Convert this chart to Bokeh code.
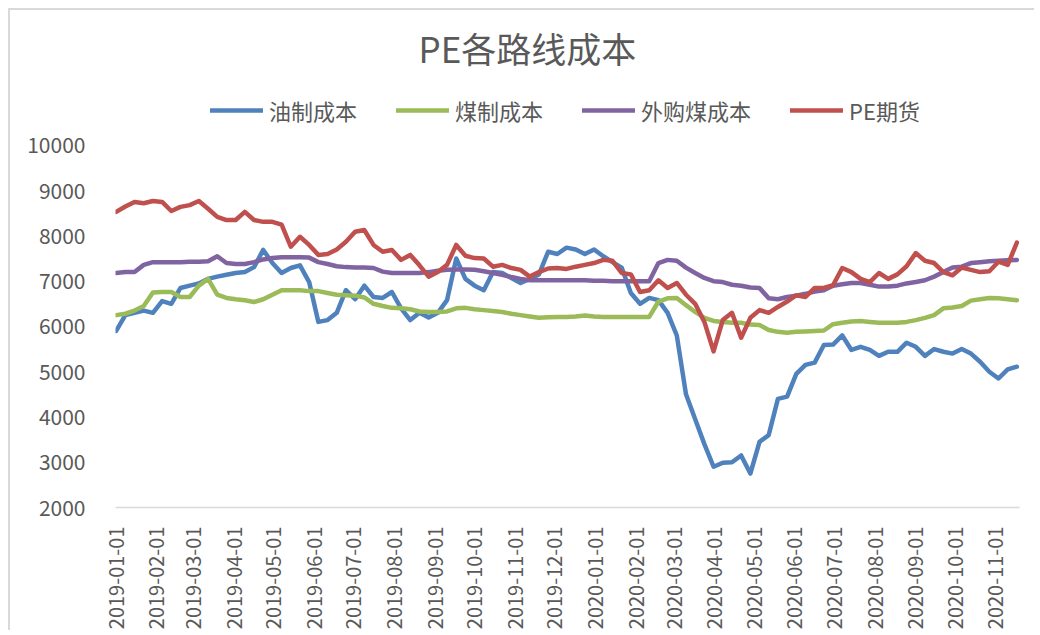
import pandas as pd
from bokeh.plotting import figure
from bokeh.models import (ColumnDataSource, Legend, LegendItem, FixedTicker,
                          MonthsTicker, DatetimeTickFormatter, Range1d)
from bokeh.embed import file_html
from bokeh.resources import INLINE

# ---- data (weekly samples) ----
start_date = "2019-01-01"
n_points = 99
dates = pd.date_range(start_date, periods=n_points, freq="7D")

oil_cost = [5900, 6250, 6300, 6350, 6300, 6560, 6500, 6850, 6900, 6950,
            7050, 7100, 7140, 7180, 7200, 7310, 7690, 7400, 7180, 7290,
            7350, 6980, 6100, 6140, 6300, 6800, 6600, 6900, 6650, 6630,
            6760, 6400, 6140, 6300, 6200, 6300, 6580, 7500, 7050, 6900,
            6800, 7200, 7180, 7070, 6960, 7050, 7150, 7650, 7600, 7740,
            7700, 7600, 7700, 7550, 7420, 7300, 6740, 6500, 6630, 6580,
            6300, 5800, 4500, 3950, 3400, 2900, 2990, 3000, 3150, 2750,
            3450, 3600, 4400, 4450, 4950, 5150, 5200, 5590, 5600, 5800,
            5480, 5550, 5480, 5350, 5440, 5440, 5640, 5550, 5350, 5500,
            5440, 5400, 5500, 5400, 5220, 5000, 4850, 5050, 5110]

coal_cost = [6250, 6280, 6350, 6450, 6750, 6760, 6760, 6650, 6650, 6900,
             7050, 6700, 6630, 6600, 6580, 6540, 6600, 6700, 6800, 6800,
             6800, 6780, 6780, 6740, 6700, 6690, 6680, 6640, 6500, 6450,
             6410, 6400, 6380, 6330, 6320, 6320, 6330, 6400, 6410, 6380,
             6360, 6340, 6320, 6280, 6250, 6220, 6190, 6200, 6210, 6210,
             6220, 6240, 6220, 6210, 6210, 6210, 6210, 6210, 6210, 6550,
             6620, 6630, 6470, 6320, 6190, 6120, 6100, 6080, 6080, 6040,
             6030, 5920, 5880, 5860, 5880, 5890, 5900, 5910, 6050, 6080,
             6110, 6120, 6100, 6080, 6080, 6080, 6100, 6140, 6190, 6250,
             6400, 6420, 6450, 6570, 6600, 6630, 6620, 6600, 6580]

bought_coal_cost = [7180, 7200, 7200, 7360, 7420, 7420, 7420, 7420, 7430, 7430,
                    7440, 7550, 7400, 7380, 7380, 7420, 7480, 7510, 7530, 7530,
                    7530, 7520, 7420, 7380, 7330, 7310, 7300, 7300, 7290, 7210,
                    7180, 7180, 7180, 7180, 7200, 7230, 7250, 7260, 7260, 7250,
                    7220, 7180, 7140, 7090, 7050, 7020, 7020, 7020, 7020, 7020,
                    7020, 7020, 7010, 7010, 7000, 7000, 7000, 7000, 7000, 7400,
                    7470, 7450, 7300, 7180, 7070, 7000, 6980, 6920, 6900, 6860,
                    6850, 6620, 6600, 6650, 6680, 6720, 6770, 6800, 6900, 6930,
                    6960, 6960, 6920, 6880, 6880, 6900, 6950, 6980, 7020, 7100,
                    7200, 7300, 7320, 7400, 7420, 7440, 7450, 7460, 7470]

pe_futures = [8530, 8650, 8750, 8720, 8770, 8750, 8550, 8640, 8680, 8770,
              8600, 8420, 8350, 8350, 8530, 8350, 8310, 8310, 8250, 7760,
              7980, 7800, 7580, 7600, 7700, 7870, 8090, 8130, 7800, 7650,
              7690, 7470, 7580, 7350, 7100, 7200, 7360, 7800, 7560, 7510,
              7500, 7320, 7360, 7290, 7250, 7100, 7200, 7280, 7290, 7270,
              7320, 7360, 7400, 7470, 7450, 7180, 7150, 6760, 6800, 7020,
              6850, 6960, 6700, 6500, 6100, 5450, 6140, 6300, 5750, 6190,
              6360, 6300, 6430, 6550, 6690, 6650, 6850, 6850, 6910, 7290,
              7200, 7050, 6980, 7180, 7050, 7150, 7330, 7620, 7450, 7400,
              7200, 7130, 7300, 7250, 7200, 7220, 7430, 7360, 7850]

series_names = ["油制成本", "煤制成本", "外购煤成本", "PE期货"]
series_colors = ["#4f81bd", "#9bbb59", "#8064a2", "#c0504d"]
y_ticks = [2000, 3000, 4000, 5000, 6000, 7000, 8000, 9000, 10000]
title_text = "PE各路线成本"

src = ColumnDataSource(dict(date=dates, oil=oil_cost, coal=coal_cost,
                            bought=bought_coal_cost, pe=pe_futures))

TEXT = "#595959"
FONT = "Noto Sans CJK SC"

# layout (pixels inside the figure)
FRAME_TOP, FRAME_BOTTOM, TICK10K = 70, 498, 135
y_end = 2000 + 8000 * (FRAME_BOTTOM - FRAME_TOP) / (FRAME_BOTTOM - TICK10K)

p = figure(width=1026, height=622, output_backend="svg", toolbar_location=None,
           x_axis_type="datetime",
           x_range=Range1d(pd.Timestamp("2018-12-31 12:00"), pd.Timestamp("2020-11-19")),
           y_range=Range1d(2000, y_end),
           min_border_left=105, min_border_right=17, min_border_bottom=124,
           min_border_top=FRAME_TOP, background_fill_color="white",
           border_fill_color="white")
p.styles = {"border-left": "2px solid #d9d9d9", "border-top": "2px solid #d9d9d9",
            "margin-left": "8px", "margin-top": "8px"}
p.outline_line_color = None
p.grid.visible = False

p.title.text = title_text
p.title.align = "left"
p.title.offset = 303
p.title.standoff = 16
p.title.text_font = FONT
p.title.text_font_size = "35px"
p.title.text_font_style = "normal"
p.title.text_color = TEXT

renderers = []
for key, color in zip(["oil", "coal", "bought", "pe"], series_colors):
    r = p.line("date", key, source=src, line_color=color, line_width=4.5,
               line_join="round", line_cap="round")
    renderers.append(r)

legend = Legend(items=[LegendItem(label=n, renderers=[r]) for n, r in zip(series_names, renderers)],
                orientation="horizontal", location=(95, 381),
                label_text_font=FONT, label_text_font_size="22px",
                label_text_color=TEXT, glyph_width=53, glyph_height=22,
                label_standoff=6, spacing=39, padding=0, margin=0,
                border_line_color=None, background_fill_alpha=0)
p.add_layout(legend)

# x axis
p.xaxis.ticker = MonthsTicker(months=list(range(12)))
fmt = "%Y-%m-%d"
p.xaxis.formatter = DatetimeTickFormatter(days=fmt, months=fmt, years=fmt)
p.xaxis.major_label_orientation = 1.5707963267948966
p.xaxis.major_label_text_font = FONT
p.xaxis.major_label_text_font_size = "20px"
p.xaxis.major_label_text_color = TEXT
p.xaxis.axis_line_color = "#d9d9d9"
p.xaxis.axis_line_width = 1.5
p.xaxis.major_tick_line_color = None
p.xaxis.minor_tick_line_color = None
p.xaxis.major_label_standoff = 13

# y axis
p.yaxis.ticker = FixedTicker(ticks=y_ticks)
p.yaxis.major_label_text_font = FONT
p.yaxis.major_label_text_font_size = "21px"
p.yaxis.major_label_text_color = TEXT
p.yaxis.axis_line_color = None
p.yaxis.major_tick_line_color = None
p.yaxis.minor_tick_line_color = None
p.yaxis.major_label_standoff = 24

open("out.html", "w").write(file_html(p, INLINE))
